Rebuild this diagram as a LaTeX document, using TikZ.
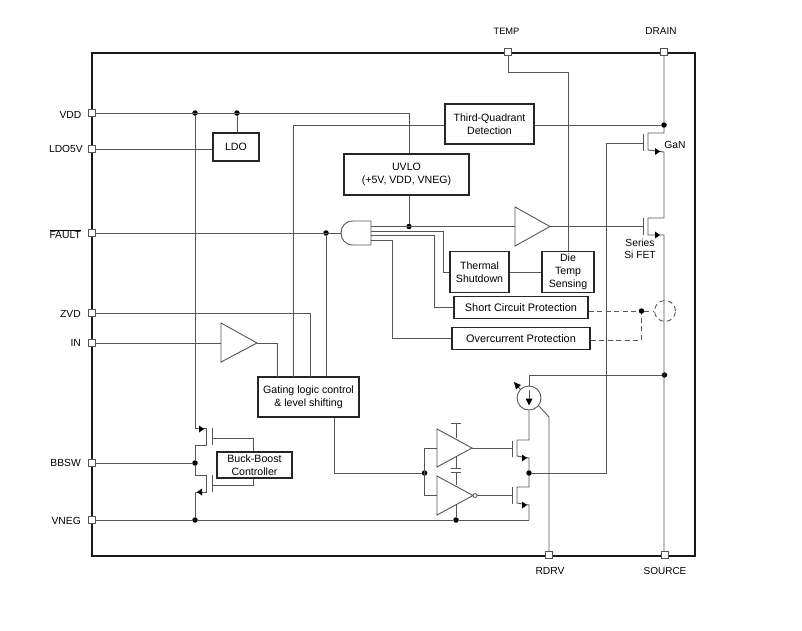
\documentclass[tikz,border=0pt]{standalone}
\usepackage{fontspec}
\setmainfont{Liberation Sans}
\usetikzlibrary{arrows.meta}
\definecolor{wire}{HTML}{555555}
\tikzset{
  wr/.style={draw=wire,line width=0.9pt},
  bx/.style={draw=black!85,line width=1.35pt,fill=white,inner sep=0pt,align=center,font=\fontsize{10.6}{13}\selectfont},
  pin/.style={draw=wire,line width=0.9pt,fill=white,minimum size=7pt,inner sep=0pt},
  jn/.style={circle,fill=black,minimum size=5.5pt,inner sep=0pt},
  lbl/.style={inner sep=0pt,font=\fontsize{10.3}{12.5}\selectfont,align=center},
  lblr/.style={lbl,anchor=east},
  dsh/.style={draw=wire,line width=0.9pt,dash pattern=on 5pt off 3.5pt},
  tipf/.style={fill=black,draw=none},
  cmp/.style={draw=wire,line width=0.9pt,fill=white},
}
\begin{document}
\begin{tikzpicture}[x=1pt,y=-1pt]
\useasboundingbox (0,0) rectangle (802,630);
% package outline
\draw[black!90,line width=1.5pt] (92,53) rectangle (695,556);
% pins
\node[pin] (vdd) at (92,113) {};
\node[pin] (ldov) at (92,149) {};
\node[pin] (fault) at (92,233) {};
\node[pin] (zvd) at (92,313) {};
\node[pin] (in) at (92,343) {};
\node[pin] (bbsw) at (92,463) {};
\node[pin] (vneg) at (92,520) {};
\node[pin] (temp) at (508,52) {};
\node[pin] (drain) at (664,52) {};
\node[pin] (rdrv) at (549,555) {};
\node[pin] (source) at (665,555) {};
% pin labels
\node[lblr] (lvdd) at (81.5,115) {VDD};
\node[lblr] (lldo) at (83,149) {LDO5V};
\node[lblr] (lfault) at (81,234) {$\overline{\mbox{FAULT}}$};
\node[lblr] (lzvd) at (81,314) {ZVD};
\node[lblr] (lin) at (81,343) {IN};
\node[lblr] (lbb) at (81,463) {BBSW};
\node[lblr] (lvn) at (81,521) {VNEG};
\node[lbl,font=\fontsize{9.3}{12}\selectfont] (ltemp) at (506.5,31) {TEMP};
\node[lbl,font=\fontsize{10}{12}\selectfont] (ldrain) at (661,31) {DRAIN};
\node[lbl] (lrdrv) at (550,571) {RDRV};
\node[lbl,font=\fontsize{10}{12}\selectfont] (lsrc) at (665,571) {SOURCE};
\node[lbl] (lgan) at (675,145) {GaN};
\node[lbl] (lser) at (640,249) {Series\\Si FET};
% boxes
\node[bx,minimum width=89pt,minimum height=40pt] (tq) at (489.5,124) {Third-Quadrant\\Detection};
\node[bx,minimum width=46pt,minimum height=28pt] (ldo) at (236,147) {LDO};
\node[bx,minimum width=125pt,minimum height=41pt] (uvlo) at (406.5,174.5) {UVLO\\(+5V, VDD, VNEG)};
\node[bx,minimum width=59pt,minimum height=41pt] (therm) at (479.5,272) {Thermal\\Shutdown};
\node[bx,minimum width=52pt,minimum height=41pt] (die) at (568,272) {Die\\Temp\\Sensing};
\node[bx,minimum width=134pt,minimum height=22pt,font=\fontsize{10.9}{13}\selectfont] (scp) at (521,307.5) {Short Circuit Protection};
\node[bx,minimum width=138pt,minimum height=22pt,font=\fontsize{10.9}{13}\selectfont] (ocp) at (521,338.5) {Overcurrent Protection};
\node[bx,minimum width=101pt,minimum height=40pt] (gate) at (308.5,397) {Gating logic control\\\& level shifting};
\node[bx,minimum width=75pt,minimum height=26pt] (bbc) at (254.5,465) {Buck-Boost\\Controller};
% junctions
\node[jn] (j1) at (195,113) {};
\node[jn] (j2) at (237,113) {};
\node[jn] (j3) at (664,125) {};
\node[jn] (j4) at (409,226.5) {};
\node[jn] (j5) at (326,233) {};
\node[jn] (j6) at (641.5,311) {};
\node[jn] (j7) at (664.5,375) {};
\node[jn] (j8) at (195,463) {};
\node[jn] (j9) at (195,520) {};
\node[jn] (j10) at (424.5,473) {};
\node[jn] (j11) at (529,473) {};
\node[jn] (j12) at (456,520) {};
% amplifier, gate and current source points
\coordinate (ampin) at (515,226.5);
\coordinate (amptip) at (550,226.5);
\coordinate (bufin) at (221,343);
\coordinate (buftip) at (257,343);
\coordinate (andin) at (341,233);
\coordinate (a1) at (371,226.5);
\coordinate (a2) at (371,231);
\coordinate (a3) at (371,235);
\coordinate (a4) at (371,240.5);
\node[circle,draw=wire,line width=0.9pt,fill=none,minimum size=24pt,inner sep=0pt] (cs) at (529,398) {};
\node[circle,dsh,fill=none,minimum size=21pt,inner sep=0pt] (sense) at (665,311) {};
% wires: top side
\draw[wr] (vdd) -- (409,113) -- (j4 |- uvlo.north);
\draw[wr] (j2) -- (j2 |- ldo.north);
\draw[wr] (ldov) -- (ldo.west |- ldov);
\draw[wr] (j4 |- uvlo.south) -- (j4);
\draw[wr] (j3) -- (tq.east |- j3);
\draw[wr] (tq.west |- j3) -- (293,125) -- (293,377);
\draw[wr] (temp) |- (568,72) -- (568,251);
\draw[wr] (drain) -- (j3) -- (664,133) -- (648,133) -- (648,150) -- (664,152) -- (664,218) -- (648,218) -- (648,235) -- (664,235) -- (source.north -| 664,0);
\draw[wr] (643,134) -- (643,151);
\draw[wr] (643,218) -- (643,235);
\draw[wr] (643,143) -- (606,143) -- (606,473) -- (j11);
\fill[tipf] (660,151.5) -- (655,148) -- (655,155) -- cycle;
\fill[tipf] (660,235) -- (655,231.5) -- (655,238.5) -- cycle;
% logic inputs
\draw[wr] (fault) -- (andin);
\draw[wr] (j5) -- (j5 |- gate.north);
\draw[wr] (zvd) -- (310,313) -- (310,377);
\draw[wr] (in) -- (bufin);
\draw[wr] (buftip) -- (277,343) -- (277,377);
\draw[cmp] (bufin |- 0,323) -- (buftip) -- (bufin |- 0,362) -- cycle;
% and gate outputs
\draw[wr] (a1) -- (ampin);
\draw[wr] (amptip) -- (643,226.5);
\draw[cmp] (ampin |- 0,207) -- (amptip) -- (ampin |- 0,246) -- cycle;
\draw[wr] (a2) -- (443,231) -- (443,272) -- (therm.west |- 0,272);
\draw[wr] (a3) -- (434,235) -- (434,307) -- (scp.west |- 0,307);
\draw[wr] (a4) -- (392.5,240.5) -- (392.5,338) -- (ocp.west |- 0,338);
\draw[cmp] (371,221) -- (353,221) .. controls (337,221) and (337,245) .. (353,245) -- (371,245) -- cycle;
\draw[wr] (therm.east |- 0,272.5) -- (die.west |- 0,272.5);
% protection dashed lines
\draw[dsh] (scp.east |- 0,311) -- (j6) -- (sense.west);
\draw[dsh] (ocp.east |- 0,340) -- (641.5,340) -- (j6);
% left side FET stack
\draw[wr] (j1) -- (195,428) -- (206,428) -- (206,445) -- (195,445) -- (j8) -- (195,475) -- (206,475) -- (206,492) -- (195,492) -- (j9);
\draw[wr] (bbsw) -- (j8);
\draw[wr] (212,428) -- (212,445);
\draw[wr] (212,475) -- (212,492);
\draw[wr] (212,438) -| (bbc.north -| 253,0);
\draw[wr] (212,485) -| (bbc.south -| 253,0);
\fill[tipf] (204,429) -- (199,425.5) -- (199,432.5) -- cycle;
\fill[tipf] (197,492) -- (202,488.5) -- (202,495.5) -- cycle;
\draw[wr] (vneg) -- (j9) -- (j12) -- (529,520);
% gate driver
\draw[wr] (gate.south -| 334,0) -- (334,473) -- (j10);
\draw[wr] (424.5,448) -- (437,448);
\draw[wr] (424.5,448) -- (424.5,495.5) -- (437,495.5);
\draw[wr] (456,423) -- (456,438);
\draw[wr] (451,423) -- (461,423);
\draw[wr] (456,457) -- (456,468);
\draw[wr] (451,468) -- (461,468);
\draw[wr] (451,472) -- (461,472);
\draw[wr] (456,472) -- (456,485);
\draw[wr] (j12) -- (456,505);
\draw[cmp] (437,429) -- (472,448) -- (437,467) -- cycle;
\draw[cmp] (437,476) -- (473,495.5) -- (437,515) -- cycle;
\node[circle,draw=wire,line width=0.8pt,fill=white,minimum size=4pt,inner sep=0pt] (bub) at (475,495.5) {};
\draw[wr] (472,448) -- (512,448);
\draw[wr] (bub) -- (512,495.5);
\draw[wr] (512,441) -- (512,457);
\draw[wr] (512,487) -- (512,504);
% right FET stack
\draw[wr] (cs.south) -- (529,440) -- (517,440) -- (517,456) -- (529,458) -- (j11) -- (529,487) -- (517,487) -- (517,503) -- (529,505) -- (529,520);
\fill[tipf] (527,458) -- (522,454.5) -- (522,461.5) -- cycle;
\fill[tipf] (527,505) -- (522,501.5) -- (522,508.5) -- cycle;
% current source
\draw[wr] (cs.north) -- (529,375) -- (j7);
\draw[wr] (529,390) -- (529,400);
\fill[tipf] (529,405.5) -- (525.5,398.5) -- (532.5,398.5) -- cycle;
\draw[wr] (539,406) -- (549,417) -- (rdrv);
\draw[wr] (520,389) -- (516,384);
\fill[tipf] (514,382) -- (516,389.5) -- (521,385) -- cycle;
\end{tikzpicture}
\end{document}
